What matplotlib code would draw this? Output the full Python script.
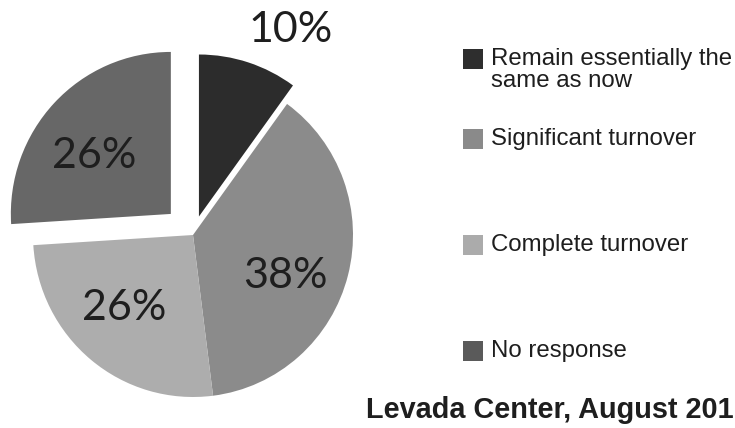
import matplotlib
matplotlib.use("Agg")
import matplotlib.pyplot as plt
from matplotlib.patches import Rectangle

# Data
categories = ["Remain essentially the\nsame as now", "Significant turnover",
              "Complete turnover", "No response"]
values = [10, 38, 26, 26]
pct_labels = ["10%", "38%", "26%", "26%"]
source = "Levada Center, August 201"

slice_colors = ["#2c2c2c", "#8b8b8b", "#adadad", "#676767"]
legend_colors = ["#2e2e2e", "#8a8a8a", "#ababab", "#5a5a5a"]
explode = [0.12, 0.0, 0.0, 0.19]

W, H = 735, 428
fig = plt.figure(figsize=(W / 100, H / 100), dpi=100)
fig.patch.set_facecolor("white")
ax = fig.add_axes([0, 0, 1, 1])

# pixel mapping: center (193,235), radii
cx, cy, RX, RY = 193, 235, 160, 162


def px(x, y):
    return (x - cx) / RX, (cy - y) / RY


wedges, _ = ax.pie(values, colors=slice_colors, startangle=90, counterclock=False,
                   explode=explode, radius=1.0, center=(0, 0), frame=True,
                   wedgeprops=dict(linewidth=0))
ax.set_xlim((0 - cx) / RX, (W - cx) / RX)
ax.set_ylim((cy - H) / RY, (cy - 0) / RY)
ax.set_aspect("auto")
ax.set_axis_off()

label_pos = [(291, 30), (285, 276), (124, 308), (94, 156)]
for lab, (x, y) in zip(pct_labels, label_pos):
    ax.text(*px(x, y), lab, ha="center", va="center", fontsize=31,
            family="Lato", color="#1e1e1e")

# Legend (manual)
leg_y = [59, 139, 245, 351]
for cat, col, y in zip(categories, legend_colors, leg_y):
    ax.add_patch(Rectangle(px(463, y + 10), 20 / RX, 20 / RY, facecolor=col,
                           edgecolor="none"))
    ty = y if "\n" not in cat else y + 11
    ax.text(*px(491, ty), cat, ha="left", va="center", fontsize=17.3,
            family="Liberation Sans", color="#1e1e1e", linespacing=1.05)

ax.text(*px(366, 410), source, ha="left", va="center", fontsize=20.8,
        fontweight="bold", family="Liberation Sans", color="#1e1e1e")

fig.savefig("out.png", dpi=100, facecolor="white")
